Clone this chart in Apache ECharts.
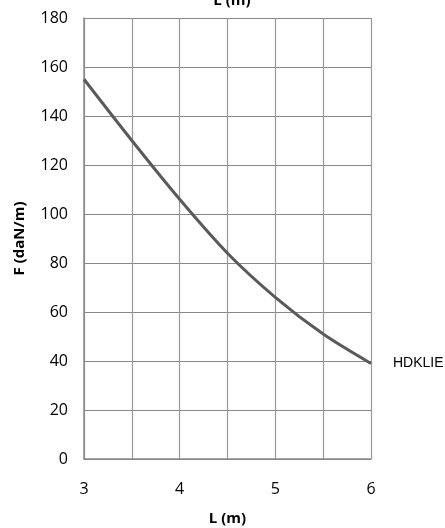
<!DOCTYPE html>
<html>
<head>
<meta charset="utf-8">
<script src="https://cdn.jsdelivr.net/npm/echarts@6/dist/echarts.min.js"></script>
<style>
  html, body { margin: 0; padding: 0; background: #fff; }
  #main { width: 445px; height: 528px; }
</style>
</head>
<body>
<div id="main"></div>
<script>
// valeurs
var lengths = [3, 3.5, 4, 4.5, 5, 5.5, 6];
var forces = [155, 130, 106, 84, 66, 51, 39];
var seriesName = 'HDKLIE';

var chart = echarts.init(document.getElementById('main'));

var points = lengths.map(function (l, i) { return [l, forces[i]]; });
var labelFont = '"Open Sans", "Liberation Sans", sans-serif';

var option = {
    animation: false,
    title: {
        text: 'L (m)',
        left: 227,
        top: -12,
        textAlign: 'center',
        textStyle: { fontSize: 15, fontWeight: 'bold', color: '#000', fontFamily: labelFont }
    },
    grid: { left: 84, right: 74, top: 18, bottom: 69, outerBoundsMode: 'none' },
    xAxis: {
        type: 'value',
        min: 3,
        max: 6,
        interval: 0.5,
        name: 'L (m)',
        nameLocation: 'middle',
        nameGap: 52,
        nameTextStyle: { fontSize: 15, fontWeight: 'bold', color: '#000', fontFamily: labelFont },
        axisLine: { show: true, lineStyle: { color: '#888', width: 1.5 } },
        axisTick: { show: false },
        axisLabel: {
            margin: 22,
            fontSize: 16,
            color: '#000',
            fontFamily: labelFont,
            formatter: function (v) { return Number.isInteger(v) ? String(v) : ''; }
        },
        splitLine: { show: true, lineStyle: { color: '#999', width: 1.2 } }
    },
    yAxis: {
        type: 'value',
        min: 0,
        max: 180,
        interval: 20,
        name: 'F (daN/m)',
        nameLocation: 'middle',
        nameGap: 57,
        nameTextStyle: { fontSize: 15, fontWeight: 'bold', color: '#000', fontFamily: labelFont },
        axisLine: { show: true, lineStyle: { color: '#888', width: 1.5 } },
        axisTick: { show: false },
        axisLabel: { margin: 16, fontSize: 16, color: '#000', fontFamily: labelFont },
        splitLine: { show: true, lineStyle: { color: '#888', width: 1.2 } }
    },
    series: [{
        name: seriesName,
        type: 'line',
        data: points,
        smooth: 0.3,
        symbol: 'none',
        lineStyle: { color: '#5a5a5a', width: 3 },
        endLabel: {
            show: true,
            formatter: seriesName,
            distance: 22,
            fontSize: 14,
            color: '#000',
            fontFamily: '"Liberation Sans", sans-serif'
        }
    }]
};

chart.setOption(option);
</script>
</body>
</html>
